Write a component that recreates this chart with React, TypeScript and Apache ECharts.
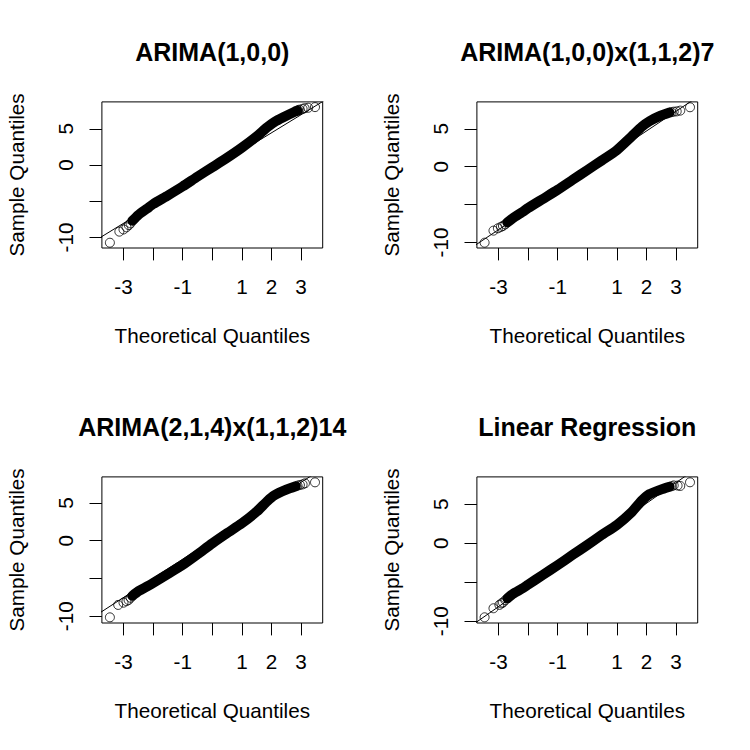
import React, { useEffect, useRef } from "react";
import * as echarts from "echarts";

// ---- data ----
const titles = ["ARIMA(1,0,0)", "ARIMA(1,0,0)x(1,1,2)7", "ARIMA(2,1,4)x(1,1,2)14", "Linear Regression"];
const xTickValues = [-3, -2, -1, 0, 1, 2, 3];
const xLabelValues = [-3, -1, 1, 2, 3];
const yTickValues = [-10, -5, 0, 5];
const yLabelValues = [-10, 0, 5];
const xRange = [-3.73, 3.73];
const yRanges = [
  [-11.46, 8.72],
  [-10.73, 8.55],
  [-10.89, 8.44],
  [-10.22, 8.51],
];

// dense part of each QQ cloud (centre of the band of overlapping circles)
const band1 = [[-2.7, -7.7], [-2.5, -6.9], [-2.2, -6.0], [-2.0, -5.4], [-1.5, -4.2], [-1.0, -2.95], [-0.5, -1.6], [0, -0.3], [0.5, 1.0], [1.0, 2.4], [1.5, 3.95], [1.85, 5.2], [2.1, 5.95], [2.4, 6.6], [2.75, 7.3], [2.88, 7.5]];
const band2 = [[-2.7, -7.35], [-2.5, -6.75], [-2.2, -6.0], [-2.0, -5.45], [-1.5, -4.25], [-1.0, -3.05], [-0.5, -1.75], [0, -0.45], [0.5, 0.85], [1.0, 2.2], [1.5, 4.0], [1.85, 5.3], [2.1, 6.0], [2.46, 6.7], [2.78, 7.15]];
const band3 = [[-2.7, -7.3], [-2.5, -6.7], [-2.2, -6.05], [-2.0, -5.6], [-1.5, -4.4], [-1.0, -3.2], [-0.5, -1.8], [0, -0.35], [0.5, 1.0], [1.0, 2.3], [1.5, 3.85], [1.85, 5.2], [2.1, 6.0], [2.5, 6.75], [2.82, 7.2]];
const band4 = [[-2.7, -7.05], [-2.5, -6.45], [-2.2, -5.8], [-2.0, -5.3], [-1.5, -4.05], [-1.0, -2.8], [-0.5, -1.5], [0, -0.22], [0.5, 1.1], [1.0, 2.35], [1.5, 4.0], [1.85, 5.5], [2.1, 6.3], [2.46, 6.85], [2.78, 7.25]];

// sparse tail points drawn as separate circles
const tail1 = [[-3.46, -10.73], [-3.14, -9.2], [-3.0, -8.9], [-2.9, -8.6], [-2.82, -8.3], [-2.76, -8.05], [2.82, 7.45], [2.9, 7.6], [2.95, 7.65], [3.05, 7.75], [3.12, 7.85], [3.24, 7.91], [3.47, 8.0]];
const tail2 = [[-3.47, -10.03], [-3.17, -8.44], [-3.02, -8.13], [-2.92, -7.95], [-2.85, -7.82], [-2.77, -7.6], [2.84, 7.2], [2.92, 7.26], [3.02, 7.3], [3.14, 7.4], [3.47, 7.84]];
const tail3 = [[-3.46, -10.14], [-3.18, -8.5], [-3.0, -8.2], [-2.9, -8.0], [-2.83, -7.85], [-2.76, -7.55], [2.88, 7.28], [2.96, 7.37], [3.05, 7.45], [3.13, 7.59], [3.47, 7.72]];
const tail4 = [[-3.47, -9.49], [-3.17, -8.33], [-2.97, -7.9], [-2.9, -7.7], [-2.85, -7.6], [-2.77, -7.3], [2.85, 7.32], [2.92, 7.42], [3.05, 7.4], [3.14, 7.35], [3.47, 7.82]];

// qqline end points (extend past the plot; clipped by the axes)
const qq1 = [[-3.8, -10.05], [3.8, 8.95]];
const qq2 = [[-3.8, -10.4], [3.8, 9.4]];
const qq3 = [[-3.8, -9.55], [3.8, 9.75]];
const qq4 = [[-3.8, -10.25], [3.8, 9.9]];

const bands = [band1, band2, band3, band4];
const tails = [tail1, tail2, tail3, tail4];
const qqLines = [qq1, qq2, qq3, qq4];

const FONT = '"Liberation Sans", Arial, Helvetica, sans-serif';

export default function App() {
  const ref = useRef<HTMLDivElement>(null);
  useEffect(() => {
    if (!ref.current) return;
    const chart = echarts.init(ref.current, null, { renderer: "svg" });
    const lefts = [101.9, 476.9, 101.9, 476.9];
    const tops = [101.9, 101.9, 476.9, 476.9];
    const W = 220.8;
    const H = 146.1;
    const grid: any[] = [];
    const xAxis: any[] = [];
    const yAxis: any[] = [];
    const series: any[] = [];
    const graphic: any[] = [];
    for (let i = 0; i < 4; i++) {
      grid.push({
        left: lefts[i], top: tops[i], width: W, height: H,
        show: true, borderColor: "#000", borderWidth: 1, backgroundColor: "transparent",
        containLabel: false, outerBoundsMode: "none",
      });
      xAxis.push({
        type: "value", gridIndex: i, min: xRange[0], max: xRange[1],
        axisLine: { show: false, onZero: false },
        splitLine: { show: false },
        axisTick: { show: true, length: 12.4, lineStyle: { color: "#000", width: 1 }, customValues: xTickValues },
        axisLabel: { customValues: xLabelValues, color: "#000", fontSize: 20.7, fontFamily: FONT, margin: 28 },
        name: "Theoretical Quantiles", nameLocation: "middle", nameGap: 77,
        nameTextStyle: { color: "#000", fontSize: 20.7, fontFamily: FONT },
      });
      yAxis.push({
        type: "value", gridIndex: i, min: yRanges[i][0], max: yRanges[i][1],
        axisLine: { show: false, onZero: false },
        splitLine: { show: false },
        axisTick: { show: true, length: 12.4, lineStyle: { color: "#000", width: 1 }, customValues: yTickValues },
        axisLabel: { customValues: yLabelValues, rotate: 90, color: "#000", fontSize: 20.7, fontFamily: FONT, margin: 26 },
        name: "Sample Quantiles", nameLocation: "middle", nameGap: 75,
        nameTextStyle: { color: "#000", fontSize: 20.7, fontFamily: FONT },
      });
      series.push({
        type: "line", xAxisIndex: i, yAxisIndex: i, data: qqLines[i], symbol: "none",
        lineStyle: { color: "#000", width: 1 }, clip: true, silent: true,
      });
      series.push({
        type: "line", xAxisIndex: i, yAxisIndex: i, data: bands[i], symbol: "none", smooth: 0.2,
        lineStyle: { color: "#000", width: 10, cap: "round", join: "round" }, clip: true, silent: true,
      });
      series.push({
        type: "scatter", xAxisIndex: i, yAxisIndex: i, data: tails[i], symbol: "circle", symbolSize: 9,
        itemStyle: { color: "rgba(0,0,0,0)", borderColor: "#000", borderWidth: 1 }, clip: false, silent: true,
      });
      graphic.push({
        type: "text",
        x: lefts[i] + W / 2, y: tops[i] - 50,
        style: {
          text: titles[i], x: 0, y: 0, align: "center", verticalAlign: "middle",
          textAlign: "center", textVerticalAlign: "middle",
          fontSize: 25, fontWeight: "bold", fontFamily: FONT, fill: "#000",
        },
      });
    }
    chart.setOption({
      animation: false,
      backgroundColor: "#fff",
      grid, xAxis, yAxis, series, graphic,
    });
    return () => chart.dispose();
  }, []);
  return <div ref={ref} style={{ position: "fixed", left: 0, top: 0, width: 750, height: 750 }} />;
}
